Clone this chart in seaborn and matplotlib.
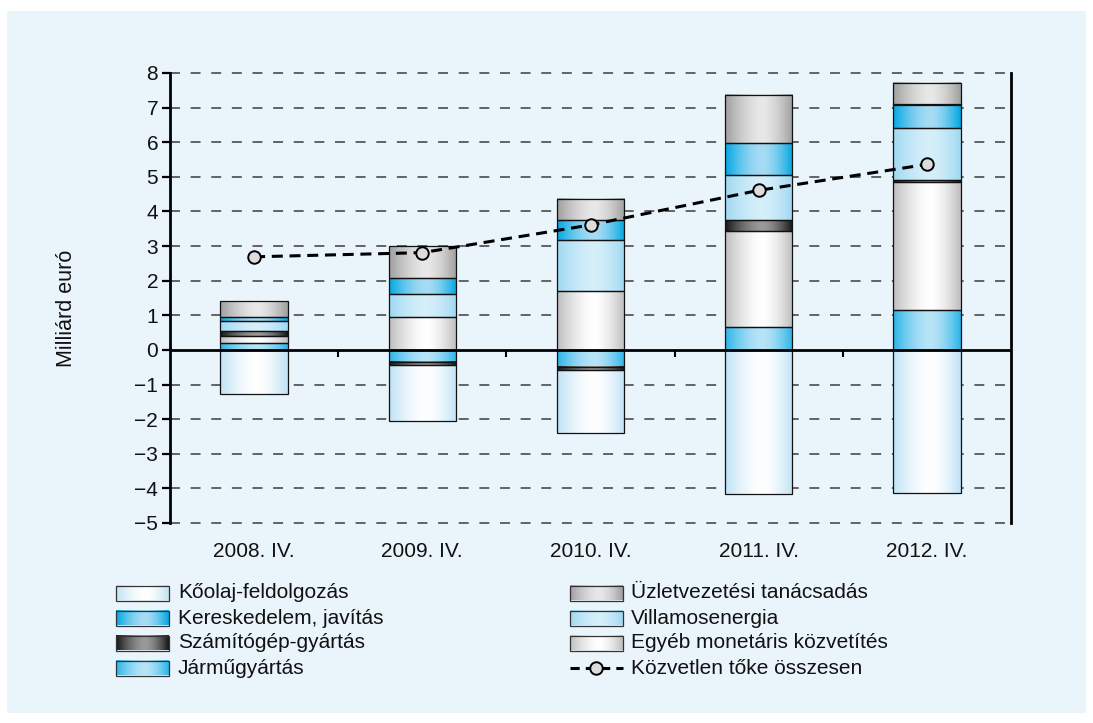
import numpy as np
import pandas as pd
import matplotlib
matplotlib.use("Agg")
import matplotlib.pyplot as plt
import seaborn as sns
from matplotlib.patches import Rectangle
from matplotlib.colors import to_rgb

# ---------------- data ----------------
categories = ["2008. IV.", "2009. IV.", "2010. IV.", "2011. IV.", "2012. IV."]
jarmu = [0.20, -0.34, -0.48, 0.67, 1.14]          # Járműgyártás
egyeb = [0.21, 0.94, 1.71, 2.77, 3.72]            # Egyéb monetáris közvetítés
szamitogep = [0.15, -0.09, -0.10, 0.32, 0.04]     # Számítógép-gyártás
villamos = [0.28, 0.68, 1.47, 1.30, 1.50]         # Villamosenergia
kereskedelem = [0.12, 0.45, 0.56, 0.91, 0.69]     # Kereskedelem, javítás
uzlet = [0.44, 0.92, 0.61, 1.40, 0.61]            # Üzletvezetési tanácsadás
koolaj = [-1.27, -1.61, -1.81, -4.16, -4.13]      # Kőolaj-feldolgozás
osszesen = [2.69, 2.81, 3.61, 4.61, 5.36]         # Közvetlen tőke összesen

name_koolaj = "Kőolaj-feldolgozás"
name_keresk = "Kereskedelem, javítás"
name_szamit = "Számítógép-gyártás"
name_jarmu = "Járműgyártás"
name_uzlet = "Üzletvezetési tanácsadás"
name_villam = "Villamosenergia"
name_egyeb = "Egyéb monetáris közvetítés"
name_total = "Közvetlen tőke összesen"
y_ticks = list(range(-5, 9))
y_label = "Milliárd euró"

# stacking order (bottom -> top)
stack = [
    (name_jarmu, jarmu),
    (name_egyeb, egyeb),
    (name_szamit, szamitogep),
    (name_villam, villamos),
    (name_keresk, kereskedelem),
    (name_uzlet, uzlet),
    (name_koolaj, koolaj),
]

# gradient colours: (edge, centre)
grad_cols = {
    name_koolaj: ("#bfe2f5", "#ffffff"),
    name_keresk: ("#00a6e2", "#a6dcf4"),
    name_szamit: ("#151515", "#9a9a9a"),
    name_jarmu: ("#2ab4e8", "#b8e4f7"),
    name_uzlet: ("#9e9e9e", "#e8e8e8"),
    name_villam: ("#9fd8f2", "#d6effa"),
    name_egyeb: ("#bdbdbd", "#ffffff"),
}


def gradient(name, n=120):
    e = np.array(to_rgb(grad_cols[name][0]))
    c = np.array(to_rgb(grad_cols[name][1]))
    t = np.linspace(0, 1, n)
    peak = 0.55
    d = np.where(t < peak, (peak - t) / peak, (t - peak) / (1 - peak))
    w = np.clip(1 - d ** 1.6, 0, 1)
    img = e[None, :] + (c - e)[None, :] * w[:, None]
    return img[None, :, :]


# ---------------- figure ----------------
sns.set_theme(style="white")
plt.rcParams["font.family"] = ["Liberation Sans", "DejaVu Sans"]
plt.rcParams["axes.unicode_minus"] = True

W, H = 1093, 723
fig = plt.figure(figsize=(W / 100, H / 100), dpi=100, facecolor="white")

bg = fig.add_axes([0, 0, 1, 1], zorder=0)
bg.set_xlim(0, W)
bg.set_ylim(H, 0)
bg.axis("off")
bg.add_patch(Rectangle((7, 11), 1079, 702, fc="#EAF4FB", ec="none"))

ax = fig.add_axes([170 / W, 1 - 523 / H, 841 / W, 450 / H], zorder=2)
ax.set_facecolor("none")

# stacked bars
pos_cum = np.zeros(len(categories))
neg_cum = np.zeros(len(categories))
for name, vals in stack:
    vals = np.asarray(vals, dtype=float)
    bottoms = np.where(vals >= 0, pos_cum, neg_cum)
    df = pd.DataFrame({"cat": categories, "val": vals})
    sns.barplot(data=df, x="cat", y="val", order=categories, bottom=bottoms,
                width=0.4, color="white", errorbar=None, ax=ax)
    cont = ax.containers[-1]
    img = gradient(name)
    for r in cont.patches:
        x0, w = r.get_x(), r.get_width()
        y0, h = r.get_y(), r.get_height()
        if abs(h) < 1e-9:
            r.set_visible(False)
            continue
        lo, hi = min(y0, y0 + h), max(y0, y0 + h)
        ax.imshow(img, extent=(x0, x0 + w, lo, hi), aspect="auto",
                  interpolation="bilinear", zorder=2.4)
        r.set_facecolor("none")
        r.set_edgecolor("#111111")
        r.set_linewidth(0.9)
        r.set_zorder(3)
    pos_cum = pos_cum + np.where(vals >= 0, vals, 0)
    neg_cum = neg_cum + np.where(vals < 0, vals, 0)

# total line
sns.lineplot(x=np.arange(len(categories)), y=osszesen, ax=ax, color="black",
             linewidth=2.2, dashes=False, zorder=6)
line = ax.lines[-1]
line.set_dashes((3.6, 2.2))
line.set_marker("o")
line.set_markersize(9)
line.set_markerfacecolor("#dcdcdc")
line.set_markeredgecolor("black")
line.set_markeredgewidth(1.4)

# gridlines
for yv in y_ticks:
    if yv == 0:
        continue
    gl = ax.axhline(yv, color="#3c3c3c", lw=1.1, zorder=0.5, clip_on=False)
    gl.set_dashes((6.5, 7.0))
ax.axhline(0, color="black", lw=2.0, zorder=5)
ax.vlines([0.5, 1.5, 2.5, 3.5], -0.2, 0, color="black", lw=1.5, zorder=5)

ax.set_xlim(-0.5, 4.5)
ax.set_ylim(-5, 8)
ax.set_yticks(y_ticks)
ax.set_xticks(range(len(categories)))
ax.set_xticklabels(categories)
ax.set_xlabel("")
ax.set_ylabel(y_label, fontsize=15.5, color="#111111")
ax.yaxis.set_label_coords(-0.11, 0.476)

for s in ["top", "bottom"]:
    ax.spines[s].set_visible(False)
for s in ["left", "right"]:
    ax.spines[s].set_visible(True)
    ax.spines[s].set_color("black")
    ax.spines[s].set_linewidth(2.0)
    ax.spines[s].set_zorder(5)
ax.tick_params(axis="y", left=True, right=False, direction="out", length=6,
               width=1.6, pad=2.5, labelsize=15, color="black", labelcolor="#111111")
ax.tick_params(axis="x", bottom=False, length=0, pad=14, labelsize=15, labelcolor="#111111")
ax.grid(False)

# ---------------- legend (drawn manually) ----------------
rows_y = [593, 618, 643, 668]
left_items = [name_koolaj, name_keresk, name_szamit, name_jarmu]
right_items = [name_uzlet, name_villam, name_egyeb]
hw, hh = 53, 15


def legend_patch(x, yc, name):
    bg.imshow(gradient(name), extent=(x, x + hw, yc + hh / 2, yc - hh / 2),
              aspect="auto", interpolation="bilinear", zorder=2)
    bg.add_patch(Rectangle((x, yc - hh / 2), hw, hh, fc="none", ec="#333333",
                           lw=0.9, zorder=3))


for yc, name in zip(rows_y, left_items):
    legend_patch(116, yc, name)
    bg.text(178, yc, name, fontsize=15, va="center", ha="left", color="#111111")
for yc, name in zip(rows_y, right_items):
    legend_patch(570, yc, name)
    bg.text(631, yc, name, fontsize=15, va="center", ha="left", color="#111111")
ly = rows_y[3]
ll, = bg.plot([570, 623], [ly, ly], color="black", lw=2.2, zorder=3)
ll.set_dashes((3.0, 2.0))
bg.plot([596], [ly], marker="o", ms=9, mfc="#dcdcdc", mec="black", mew=1.4,
        zorder=4, ls="none")
bg.text(631, ly, name_total, fontsize=15, va="center", ha="left", color="#111111")

bg.set_xlim(0, W)
bg.set_ylim(H, 0)

fig.savefig("out.png", dpi=100, facecolor="white")
